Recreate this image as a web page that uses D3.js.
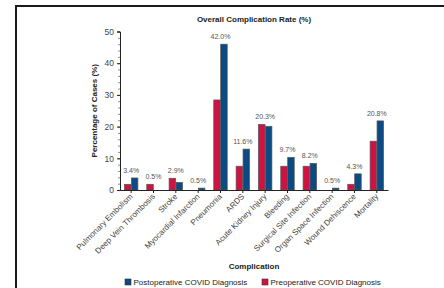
<!DOCTYPE html>
<html>
<head>
<meta charset="utf-8">
<script src="https://cdn.jsdelivr.net/npm/d3@7"></script>
<style>
  body { margin: 0; background: #fff; }
  svg { display: block; font-family: "Liberation Sans", Arial, sans-serif; }
</style>
</head>
<body>
<svg id="chart" width="444" height="288"></svg>
<script>
(() => {
    const categories = ["Pulmonary Embolism", "Deep Vein Thrombosis", "Stroke", "Myocardial Infarction",
        "Pneumonia", "ARDS", "Acute Kidney Injury", "Bleeding", "Surgical Site Infection",
        "Organ Space Infection", "Wound Dehiscence", "Mortality"];
    const preop = [1.8, 1.8, 3.7, 0, 28.4, 7.5, 20.7, 7.5, 7.5, 0, 1.8, 15.4];
    const postop = [3.8, 0, 2.4, 0.6, 46.0, 12.9, 20.1, 10.3, 8.4, 0.6, 5.1, 21.8];
    const overall = ["3.4%", "0.5%", "2.9%", "0.5%", "42.0%", "11.6%", "20.3%", "9.7%", "8.2%", "0.5%", "4.3%", "20.8%"];
    const yTicks = [0, 10, 20, 30, 40, 50];

    const svg = d3.select("#chart");
    const left = 120, right = 388, top = 31.5, bottom = 190;

    // frame (top and left edges)
    svg.append("path")
        .attr("d", "M16,288V6H444")
        .attr("fill", "none").attr("stroke", "#1a1a1a").attr("stroke-width", 2);

    const x = d3.scaleBand().domain(categories).range([left, right]).paddingInner(0.36).paddingOuter(0.18);
    const sub = d3.scaleBand().domain(["pre", "post"]).range([0, x.bandwidth()]).padding(0.06);
    const y = d3.scaleLinear().domain([0, 50]).range([bottom, top]);

    const rows = categories.map((c, i) => ({ c, pre: preop[i], post: postop[i], label: overall[i] }));
    const color = { pre: "#cf1241", post: "#0b4a82" };

    const g = svg.append("g");
    rows.forEach(r => {
        ["pre", "post"].forEach(k => {
            if (r[k] <= 0) return;
            g.append("rect")
                .attr("x", x(r.c) + sub(k))
                .attr("y", y(r[k]))
                .attr("width", sub.bandwidth())
                .attr("height", y(0) - y(r[k]))
                .attr("fill", color[k])
                .attr("stroke", "#555").attr("stroke-width", 0.7);
        });
        g.append("text")
            .attr("x", x(r.c) + x.bandwidth() / 2)
            .attr("y", y(Math.max(r.pre, r.post)) - 5)
            .attr("text-anchor", "middle")
            .attr("font-size", 7).attr("fill", "#555")
            .text(r.label);
    });

    // minor y ticks
    svg.append("g")
        .attr("transform", `translate(${left},0)`)
        .call(d3.axisLeft(y).tickValues(d3.range(0, 51, 2)).tickSize(2).tickFormat(""))
        .call(a => a.select(".domain").remove())
        .call(a => a.selectAll("line").attr("stroke", "#444").attr("stroke-width", 0.6));

    const yAxis = svg.append("g")
        .attr("transform", `translate(${left},0)`)
        .call(d3.axisLeft(y).tickValues(yTicks).tickSize(3).tickSizeOuter(3).tickPadding(3));
    yAxis.select(".domain").attr("stroke", "#222");
    yAxis.selectAll("line").attr("stroke", "#222");
    yAxis.selectAll("text").attr("font-size", 8.5).attr("fill", "#444").attr("font-family", null);

    const xAxis = svg.append("g")
        .attr("transform", `translate(0,${bottom})`)
        .call(d3.axisBottom(x).tickSize(3).tickSizeOuter(0));
    xAxis.select(".domain").attr("stroke", "#222").attr("stroke-width", 1.2);
    xAxis.selectAll("line").attr("stroke", "#222");
    xAxis.selectAll("text")
        .attr("font-size", 8).attr("fill", "#444").attr("font-family", null)
        .attr("text-anchor", "end")
        .attr("dy", null).attr("y", 0)
        .attr("transform", "translate(2,7) rotate(-45)");

    const cx = (left + right) / 2;
    svg.append("text")
        .attr("x", cx).attr("y", 21.5)
        .attr("text-anchor", "middle").attr("font-size", 8).attr("font-weight", "bold").attr("fill", "#222")
        .text("Overall Complication Rate (%)");

    svg.append("text")
        .attr("transform", `translate(97,${(top + bottom) / 2}) rotate(-90)`)
        .attr("text-anchor", "middle").attr("font-size", 8).attr("font-weight", "bold").attr("fill", "#222")
        .text("Percentage of Cases (%)");

    svg.append("text")
        .attr("x", cx).attr("y", 269)
        .attr("text-anchor", "middle").attr("font-size", 8).attr("font-weight", "bold").attr("fill", "#222")
        .text("Complication");

    // legend
    const legend = [
        { name: "Postoperative COVID Diagnosis", k: "post", x: 125 },
        { name: "Preoperative COVID Diagnosis", k: "pre", x: 262 }
    ];
    const lg = svg.append("g").selectAll("g").data(legend).join("g")
        .attr("transform", d => `translate(${d.x},279)`);
    lg.append("rect").attr("width", 6).attr("height", 6)
        .attr("fill", d => color[d.k]).attr("stroke", "#333").attr("stroke-width", 0.6);
    lg.append("text").attr("x", 8.5).attr("y", 6)
        .attr("font-size", 8).attr("fill", "#222")
        .text(d => d.name);
})();
</script>
</body>
</html>
